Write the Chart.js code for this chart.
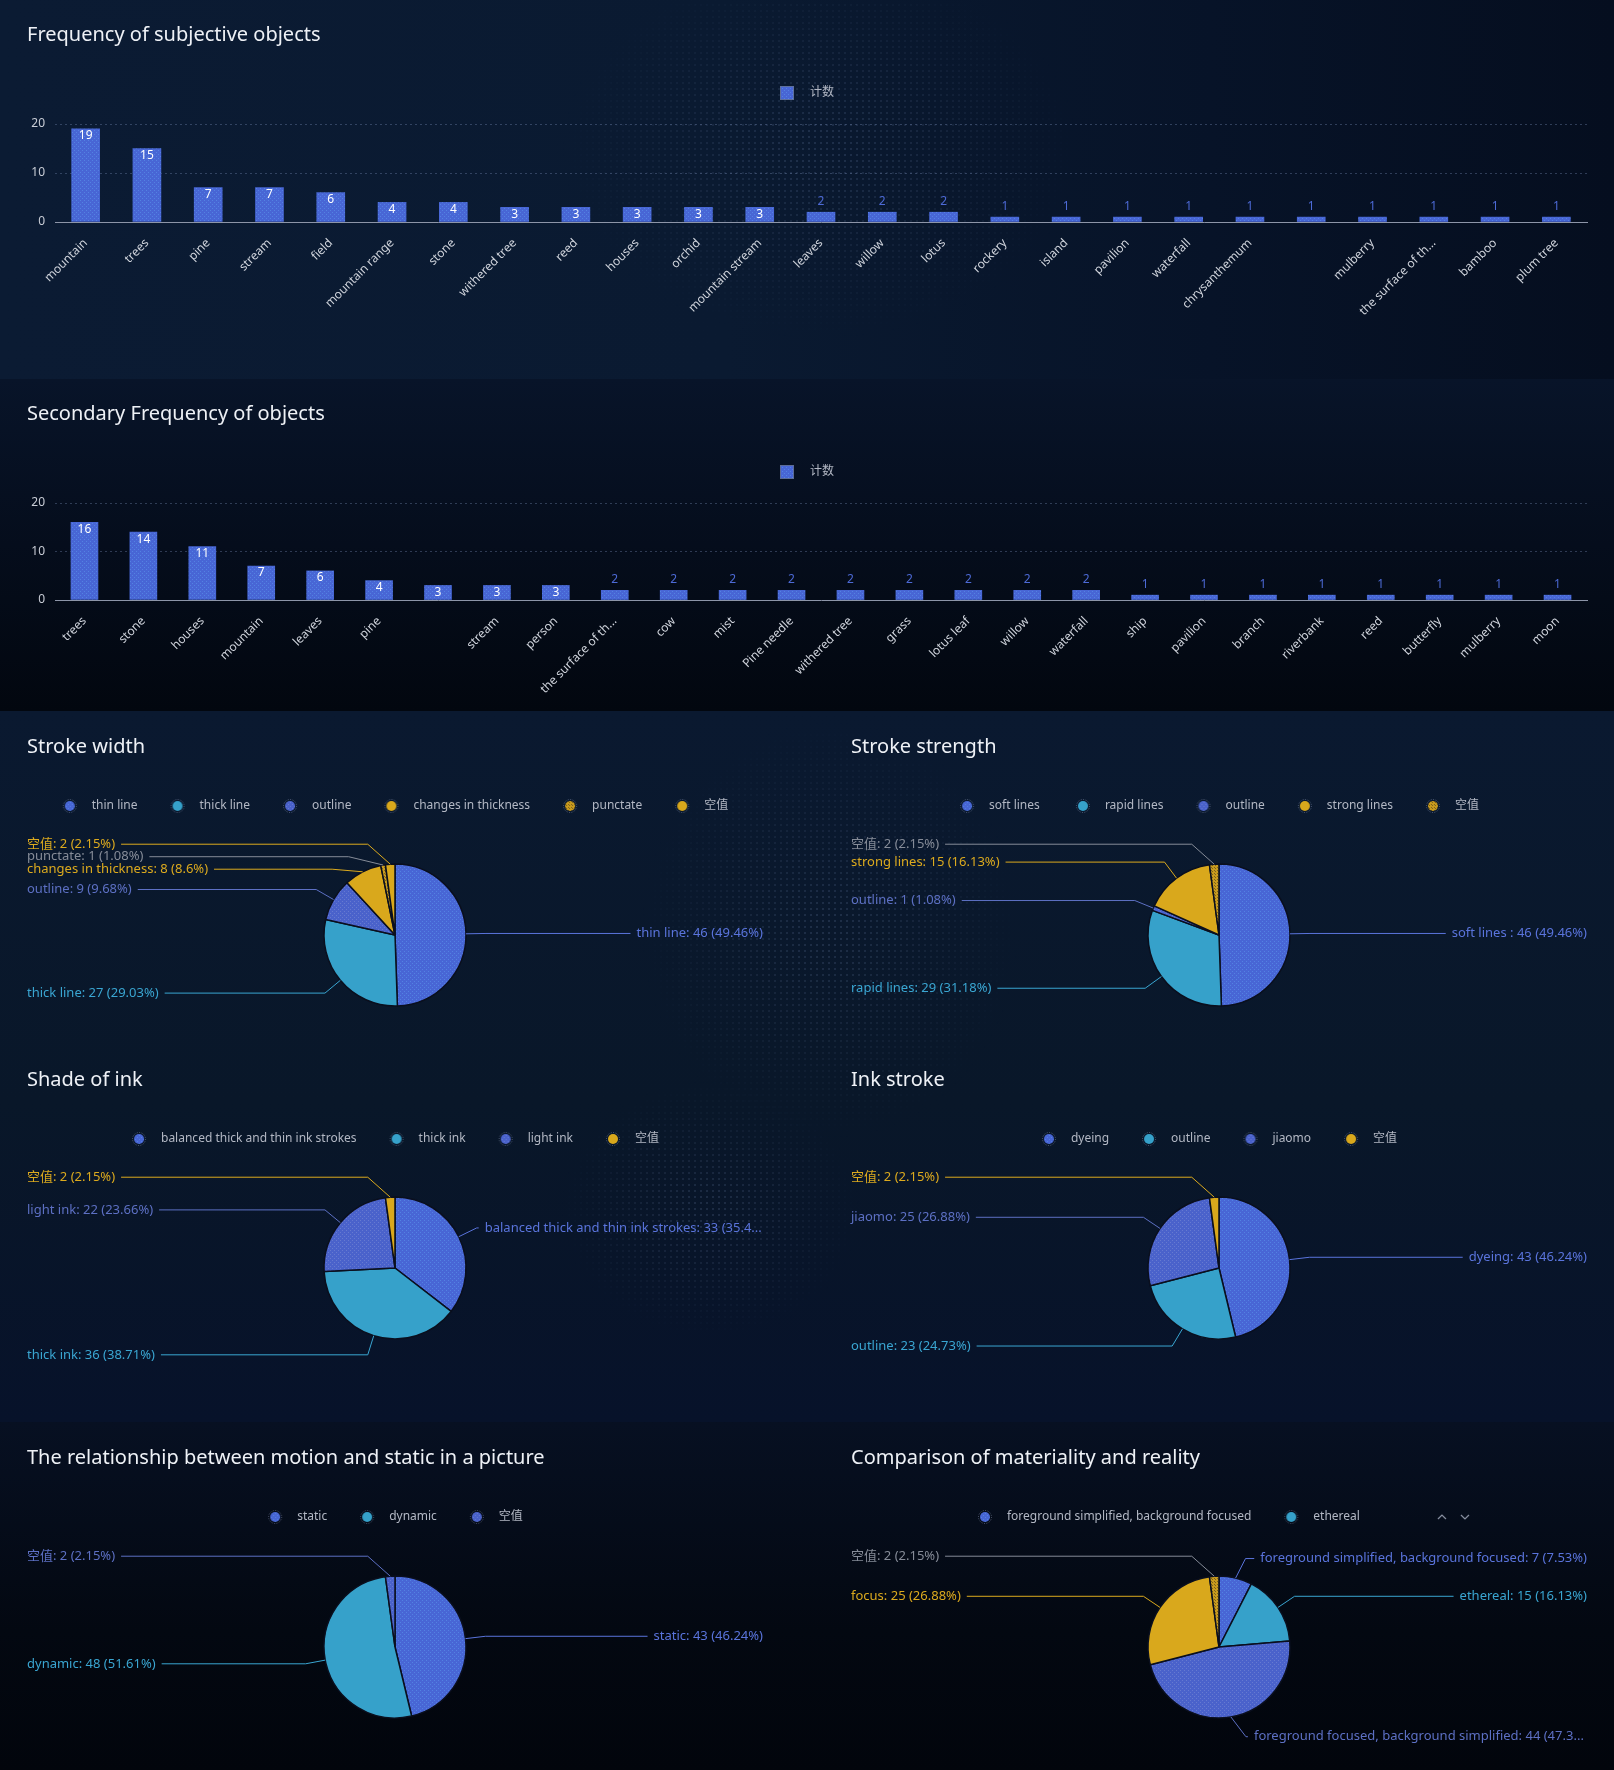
<!DOCTYPE html>
<html>
<head>
<meta charset="utf-8">
<script src="https://cdn.jsdelivr.net/npm/chart.js@4.4.1/dist/chart.umd.min.js"></script>
<style>
  html, body { margin: 0; padding: 0; }
  body { width: 1614px; height: 1770px; position: relative; overflow: hidden; background: #030914; }
  .panel { position: absolute; left: 0; width: 1614px; }
  .dots {
    position: absolute;
    background-image: radial-gradient(circle, rgba(150,175,225,0.18) 0.6px, transparent 1.2px);
    background-size: 6px 6px;
    -webkit-mask-image: radial-gradient(ellipse closest-side, rgba(0,0,0,1) 10%, rgba(0,0,0,0) 100%);
    mask-image: radial-gradient(ellipse closest-side, rgba(0,0,0,1) 10%, rgba(0,0,0,0) 100%);
  }
  canvas { position: absolute; }
</style>
</head>
<body>
<div class="panel" style="top:0;height:379px;background:linear-gradient(90deg,#0b1b33 0%,#0a1a31 45%,#071328 75%,#050e1f 100%)"></div>
<div class="panel" style="top:379px;height:332px;background:linear-gradient(180deg,#081429 0%,#050d1c 50%,#02070f 100%)"></div>
<div class="panel" style="top:711px;height:711px;background:linear-gradient(180deg,#0a1930 0%,#091729 55%,#07122a 100%)"></div>
<div class="panel" style="top:1422px;height:348px;background:linear-gradient(180deg,#071022 0%,#030811 60%,#02050c 100%)"></div>
<div class="dots" style="left:560px;top:-40px;width:520px;height:380px"></div>
<div class="dots" style="left:640px;top:720px;width:380px;height:420px"></div>
<div class="dots" style="left:560px;top:1080px;width:300px;height:260px"></div>

<canvas id="bar1" width="1614" height="379" style="left:0;top:0"></canvas>
<canvas id="bar2" width="1614" height="379" style="left:0;top:379px"></canvas>
<canvas id="pie1" width="790" height="340" style="left:0;top:711px"></canvas>
<canvas id="pie2" width="790" height="340" style="left:824px;top:711px"></canvas>
<canvas id="pie3" width="790" height="340" style="left:0;top:1044px"></canvas>
<canvas id="pie4" width="790" height="340" style="left:824px;top:1044px"></canvas>
<canvas id="pie5" width="790" height="340" style="left:0;top:1422px"></canvas>
<canvas id="pie6" width="790" height="340" style="left:824px;top:1422px"></canvas>

<script>
// data
const seriesName = '计数';
const yTicks = [0, 10, 20];

const objCategories = ['mountain', 'trees', 'pine', 'stream', 'field', 'mountain range', 'stone', 'withered tree', 'reed', 'houses', 'orchid', 'mountain stream', 'leaves', 'willow', 'lotus', 'rockery', 'island', 'pavilion', 'waterfall', 'chrysanthemum', '', 'mulberry', 'the surface of th...', 'bamboo', 'plum tree'];
const objCounts = [19, 15, 7, 7, 6, 4, 4, 3, 3, 3, 3, 3, 2, 2, 2, 1, 1, 1, 1, 1, 1, 1, 1, 1, 1];

const secCategories = ['trees', 'stone', 'houses', 'mountain', 'leaves', 'pine', '', 'stream', 'person', 'the surface of th...', 'cow', 'mist', 'Pine needle', 'withered tree', 'grass', 'lotus leaf', 'willow', 'waterfall', 'ship', 'pavilion', 'branch', 'riverbank', 'reed', 'butterfly', 'mulberry', 'moon'];
const secCounts = [16, 14, 11, 7, 6, 4, 3, 3, 3, 2, 2, 2, 2, 2, 2, 2, 2, 2, 1, 1, 1, 1, 1, 1, 1, 1];

const widthLabels = ['thin line', 'thick line', 'outline', 'changes in thickness', 'punctate', '空值'];
const widthValues = [46, 27, 9, 8, 1, 2];

const strengthLabels = ['soft lines ', 'rapid lines', 'outline', 'strong lines', '空值'];
const strengthValues = [46, 29, 1, 15, 2];

const shadeLabels = ['balanced thick and thin ink strokes', 'thick ink', 'light ink', '空值'];
const shadeValues = [33, 36, 22, 2];

const inkLabels = ['dyeing', 'outline', 'jiaomo', '空值'];
const inkValues = [43, 23, 25, 2];

const motionLabels = ['static', 'dynamic', '空值'];
const motionValues = [43, 48, 2];

const realityLabels = ['foreground simplified, background focused', 'ethereal', 'foreground focused, background simplified', 'focus', '空值'];
const realityValues = [7, 15, 44, 25, 2];

// styles
const FONT = '"Noto Sans", "Noto Sans CJK SC", sans-serif';
const LEGEND_TEXT = '#b3b8c4';
Chart.defaults.font.family = FONT;
Chart.defaults.animation = false;

function dotPattern(base, dot, step) {
  const c = document.createElement('canvas');
  c.width = step; c.height = step;
  const g = c.getContext('2d');
  g.fillStyle = base;
  g.fillRect(0, 0, step, step);
  g.fillStyle = dot;
  g.fillRect(0, 0, 1, 1);
  g.fillRect(Math.floor(step / 2), Math.floor(step / 2), 1, 1);
  return g.createPattern(c, 'repeat');
}

const BLUE = dotPattern('#4866d5', 'rgba(110,190,255,0.32)', 4);
const CYAN = '#36a1ca';
const BLUE2 = dotPattern('#4a62cb', 'rgba(175,185,225,0.28)', 4);
const GOLD = '#d9a81c';
const GOLDP = dotPattern('#c99b1d', 'rgba(60,50,30,0.55)', 3);
const sliceFills = [BLUE, CYAN, BLUE2, GOLD, GOLDP, GOLD];
const textColors = ['#5a74dc', '#3aa6d2', '#5d70c4', '#dcaa1e', '#868c98', '#dcaa1e'];

function circleIcon(fill) {
  const c = document.createElement('canvas');
  c.width = 24; c.height = 16;
  const g = c.getContext('2d');
  g.beginPath();
  g.arc(8, 8, 6.5, 0, Math.PI * 2);
  g.strokeStyle = 'rgba(190,200,235,0.4)';
  g.setLineDash([1, 1.5]);
  g.lineWidth = 1;
  g.stroke();
  g.setLineDash([]);
  g.beginPath();
  g.arc(8, 8, 5, 0, Math.PI * 2);
  g.fillStyle = fill;
  g.fill();
  return c;
}

function squareIcon() {
  const c = document.createElement('canvas');
  c.width = 24; c.height = 14;
  const g = c.getContext('2d');
  g.fillStyle = BLUE;
  g.fillRect(1, 1, 12, 12);
  g.strokeStyle = 'rgba(150,170,230,0.6)';
  g.lineWidth = 1;
  g.strokeRect(0.5, 0.5, 13, 13);
  return c;
}

function chevronIcon() {
  const c = document.createElement('canvas');
  c.width = 140; c.height = 16;
  const g = c.getContext('2d');
  g.strokeStyle = '#8b92a3';
  g.lineWidth = 1.2;
  g.beginPath();
  g.moveTo(104, 10); g.lineTo(108, 6); g.lineTo(112, 10);
  g.moveTo(127, 6); g.lineTo(131, 10); g.lineTo(135, 6);
  g.stroke();
  return c;
}

// value labels on bars
const barValues = {
  id: 'barValues',
  afterDatasetsDraw(chart) {
    const meta = chart.getDatasetMeta(0);
    const data = chart.data.datasets[0].data;
    const ctx = chart.ctx;
    ctx.save();
    ctx.font = '12px ' + FONT;
    ctx.textAlign = 'center';
    ctx.textBaseline = 'middle';
    meta.data.forEach((bar, i) => {
      const v = data[i];
      if (v >= 3) {
        ctx.fillStyle = '#ffffff';
        ctx.fillText(v, bar.x, bar.y + 7);
      } else {
        ctx.fillStyle = '#4d6ad6';
        ctx.fillText(v, bar.x, bar.y - 11);
      }
    });
    ctx.restore();
  }
};

// outside labels with leader lines for the pies
const pieLabels = {
  id: 'pieLabels',
  afterDraw(chart) {
    const ctx = chart.ctx;
    const meta = chart.getDatasetMeta(0);
    const values = chart.data.datasets[0].data;
    const names = chart.data.labels;
    const total = values.reduce((a, b) => a + b, 0);
    const left = 27, right = chart.width - 27, gap = 12.5;
    ctx.save();
    ctx.font = '13px ' + FONT;
    ctx.textBaseline = 'middle';
    ctx.textAlign = 'left';
    ctx.lineWidth = 1;
    const items = meta.data.map((arc, i) => {
      const mid = (arc.startAngle + arc.endAngle) / 2;
      const r = arc.outerRadius;
      const cos = Math.cos(mid), sin = Math.sin(mid);
      const pct = +(values[i] / total * 100).toFixed(2);
      return {
        cx: arc.x, cy: arc.y, r: r,
        p0: { x: arc.x + cos * r, y: arc.y + sin * r },
        side: cos >= 0 ? 1 : -1,
        y: arc.y + sin * (r + 20),
        text: names[i] + ': ' + values[i] + ' (' + pct + '%)',
        color: textColors[i]
      };
    });
    // push overlapping labels downwards
    [1, -1].forEach(side => {
      const group = items.filter(it => it.side === side).sort((a, b) => a.y - b.y);
      for (let j = 1; j < group.length; j++) {
        if (group[j].y < group[j - 1].y + gap) group[j].y = group[j - 1].y + gap;
      }
    });
    items.forEach(it => {
      const R = it.r + 20;
      const dy = it.y - it.cy;
      const dx = Math.max(Math.sqrt(Math.max(R * R - dy * dy, 0)), 0.3 * Math.abs(dy));
      const ex = it.cx + it.side * dx;
      let text = it.text;
      const w = ctx.measureText(text).width;
      let tx, lineEnd;
      if (it.side < 0) {
        tx = left;
        lineEnd = left + w + 6;
      } else {
        const avail = right - (ex + 8);
        if (w <= avail) {
          tx = right - w;
        } else {
          tx = ex + 8;
          if (w > avail + 6) {
            while (text.length && ctx.measureText(text + '...').width > avail) text = text.slice(0, -1);
            text += '...';
          }
        }
        lineEnd = tx - 6;
      }
      ctx.strokeStyle = it.color;
      ctx.beginPath();
      ctx.moveTo(it.p0.x, it.p0.y);
      ctx.lineTo(ex, it.y);
      ctx.lineTo(lineEnd, it.y);
      ctx.stroke();
      ctx.fillStyle = it.color;
      ctx.fillText(text, tx, it.y);
    });
    ctx.restore();
  }
};

function makeBar(id, title, categories, counts, thickness, padBottom) {
  new Chart(document.getElementById(id), {
    type: 'bar',
    data: {
      labels: categories,
      datasets: [{
        label: seriesName,
        data: counts,
        backgroundColor: BLUE,
        barThickness: thickness
      }]
    },
    options: {
      responsive: false,
      layout: { padding: { left: 27, right: 27, top: 0, bottom: padBottom } },
      plugins: {
        title: {
          display: true, text: title, align: 'start', color: '#eef1f6',
          font: { size: 20, weight: 'normal' }, padding: { top: 23, bottom: 30 }
        },
        subtitle: {
          display: true, text: '', weight: 500,
          font: { size: 10, lineHeight: 1 }, padding: { top: 5, bottom: 0 }
        },
        legend: {
          labels: {
            usePointStyle: true, pointStyleWidth: 24, padding: 10,
            color: LEGEND_TEXT, font: { size: 12 },
            generateLabels: () => [{ text: seriesName, fontColor: LEGEND_TEXT, pointStyle: squareIcon(), datasetIndex: 0 }]
          }
        },
        tooltip: { enabled: false }
      },
      scales: {
        x: {
          grid: { display: false },
          border: { color: '#8d95a8', width: 1 },
          ticks: { color: '#d0d4dc', font: { size: 12 }, autoSkip: false, maxRotation: 45, minRotation: 45, padding: 6 },
          afterFit: s => { s.height = 100; }
        },
        y: {
          min: 0, max: 20,
          afterBuildTicks: s => { s.ticks = yTicks.map(v => ({ value: v })); },
          afterFit: s => { s.width = 28; },
          grid: { color: c => c.tick && c.tick.value === 0 ? 'rgba(0,0,0,0)' : 'rgba(110,130,170,0.4)', drawTicks: false },
          border: { display: false, dash: [2, 3] },
          ticks: { color: '#c9cdd6', font: { size: 12 }, padding: 10 }
        }
      }
    },
    plugins: [barValues]
  });
}

function makePie(id, title, labels, values, padBottom, legendCount) {
  const n = legendCount || labels.length;
  new Chart(document.getElementById(id), {
    type: 'pie',
    data: {
      labels: labels,
      datasets: [{
        data: values,
        backgroundColor: labels.map((l, i) => sliceFills[i]),
        borderColor: '#0a0f1e',
        borderWidth: 1.5,
        radius: 71
      }]
    },
    options: {
      responsive: false,
      layout: { padding: { left: 27, right: 27, top: 0, bottom: padBottom } },
      plugins: {
        title: {
          display: true, text: title, align: 'start', color: '#eef1f6',
          font: { size: 20, weight: 'normal' }, padding: { top: 24, bottom: 9 }
        },
        subtitle: {
          display: true, text: '', weight: 500,
          font: { size: 10, lineHeight: 1 }, padding: 0
        },
        legend: {
          labels: {
            usePointStyle: true, pointStyleWidth: 24, padding: 32,
            color: LEGEND_TEXT, font: { size: 12 },
            generateLabels: () => {
              const items = labels.slice(0, n).map((l, i) => ({
                text: l, fontColor: LEGEND_TEXT, pointStyle: circleIcon(sliceFills[i]), index: i
              }));
              if (n < labels.length) {
                items.push({ text: '\u2003\u2003\u2003 ', fontColor: LEGEND_TEXT, pointStyle: chevronIcon(), index: n });
              }
              return items;
            }
          }
        },
        tooltip: { enabled: false }
      }
    },
    plugins: [pieLabels]
  });
}

makeBar('bar1', 'Frequency of subjective objects', objCategories, objCounts, 28, 57);
makeBar('bar2', 'Secondary Frequency of objects', secCategories, secCounts, 27, 58);
makePie('pie1', 'Stroke width', widthLabels, widthValues, 13);
makePie('pie2', 'Stroke strength', strengthLabels, strengthValues, 13);
makePie('pie3', 'Shade of ink', shadeLabels, shadeValues, 13);
makePie('pie4', 'Ink stroke', inkLabels, inkValues, 13);
makePie('pie5', 'The relationship between motion and static in a picture', motionLabels, motionValues, 11);
makePie('pie6', 'Comparison of materiality and reality', realityLabels, realityValues, 11, 2);
</script>
</body>
</html>
